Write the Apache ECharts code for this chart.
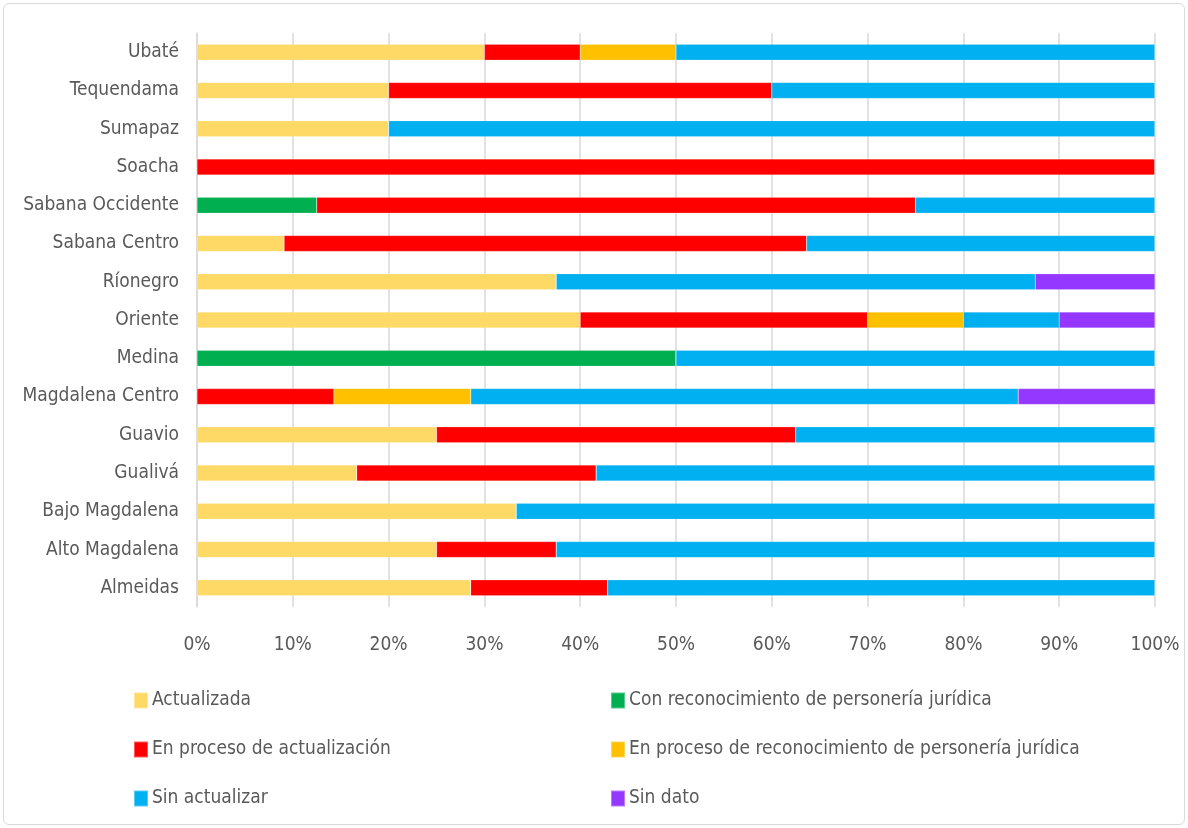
<!DOCTYPE html>
<html><head><meta charset="utf-8">
<script src="https://cdn.jsdelivr.net/npm/echarts@6/dist/echarts.min.js"></script>
<style>
html,body{margin:0;padding:0;background:#fff;}
#frame{position:absolute;left:3px;top:3px;width:1180px;height:820px;border:1px solid #d9d9d9;border-radius:6px;}
#c{position:absolute;left:0;top:0;width:1188px;height:828px;}
</style></head>
<body><div id="frame"></div><div id="c"></div>
<script>
const categories = ['Almeidas','Alto Magdalena','Bajo Magdalena','Gualivá','Guavio','Magdalena Centro','Medina','Oriente','Ríonegro','Sabana Centro','Sabana Occidente','Soacha','Sumapaz','Tequendama','Ubaté'];
const actualizada      = [28.57, 25, 33.33, 16.67, 25, 0, 0, 40, 37.5, 9.09, 0, 0, 20, 20, 30];
const conReconocimiento= [0, 0, 0, 0, 0, 0, 50, 0, 0, 0, 12.5, 0, 0, 0, 0];
const enProcesoAct     = [14.29, 12.5, 0, 25, 37.5, 14.29, 0, 30, 0, 54.55, 62.5, 100, 0, 40, 10];
const enProcesoRec     = [0, 0, 0, 0, 0, 14.29, 0, 10, 0, 0, 0, 0, 0, 0, 10];
const sinActualizar    = [57.14, 62.5, 66.67, 58.33, 37.5, 57.14, 50, 10, 50, 36.36, 25, 0, 80, 40, 50];
const sinDato          = [0, 0, 0, 0, 0, 14.29, 0, 10, 12.5, 0, 0, 0, 0, 0, 0];
const seriesNames = ['Actualizada','Con reconocimiento de personería jurídica','En proceso de actualización','En proceso de reconocimiento de personería jurídica','Sin actualizar','Sin dato'];
const seriesData = [actualizada, conReconocimiento, enProcesoAct, enProcesoRec, sinActualizar, sinDato];
const colors = ['#FFD966','#00B050','#FF0000','#FFC000','#00B0F0','#9437FF'];
const FONT = "'Liberation Sans Narrow','DejaVu Sans Condensed','Roboto Condensed',sans-serif";

const chart = echarts.init(document.getElementById('c'));
chart.setOption({
  animation:false,
  color: colors,
  textStyle:{fontFamily:FONT},
  grid:{left:197, right:33, top:33, bottom:221},
  xAxis:{type:'value', min:0, max:100, interval:10,
    axisLabel:{formatter:'{value}%', color:'#595959', fontSize:19, fontFamily:FONT, margin:29},
    splitLine:{show:true, lineStyle:{color:'#d9d9d9', width:1.5}},
    axisLine:{show:false}, axisTick:{show:false}},
  yAxis:{type:'category', data:categories,
    axisLabel:{color:'#595959', fontSize:19, fontFamily:FONT, margin:18},
    axisLine:{show:true, lineStyle:{color:'#d9d9d9', width:1.5}}, axisTick:{show:false}},
  legend:[
    {left:128, top:686, orient:'vertical', itemGap:30, itemWidth:14, itemHeight:16, icon:'rect',
     textStyle:{color:'#595959', fontSize:19, fontFamily:FONT, padding:[0,0,0,-1]},
     data:[seriesNames[0], seriesNames[2], seriesNames[4]]},
    {left:605, top:686, orient:'vertical', itemGap:30, itemWidth:14, itemHeight:16, icon:'rect',
     textStyle:{color:'#595959', fontSize:19, fontFamily:FONT, padding:[0,0,0,-1]},
     data:[seriesNames[1], seriesNames[3], seriesNames[5]]}
  ],
  series: seriesNames.map((n,i)=>({
    name:n, type:'bar', stack:'total', barWidth:16,
    data: seriesData[i],
    itemStyle:{color:colors[i], borderColor:'rgba(255,255,255,0.35)', borderWidth:0.5}
  }))
});
</script></body></html>
